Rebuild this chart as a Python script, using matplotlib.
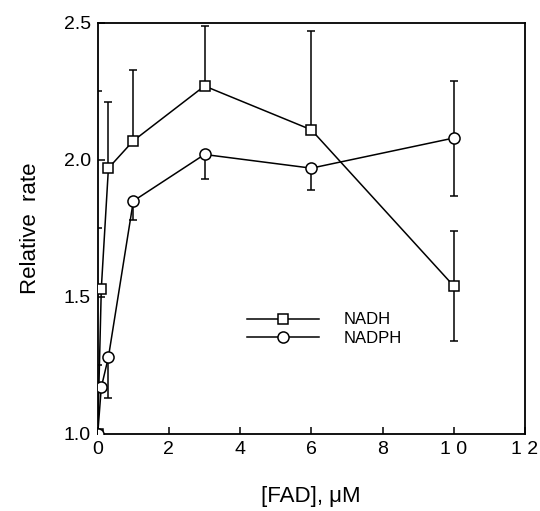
import matplotlib.pyplot as plt
import numpy as np

plt.rcParams['font.family'] = ['Liberation Sans', 'DejaVu Sans']

# [FAD] in uM
fad = [0, 0.1, 0.3, 1, 3, 6, 10]

# NADH
nadh = [1.0, 1.53, 1.97, 2.07, 2.27, 2.11, 1.54]
nadh_lo = [0, 0, 0, 0, 0, 0, 0.20]
nadh_hi = [0, 0, 0.24, 0.26, 0.22, 0.36, 0.20]

# NADPH
nadph = [1.0, 1.17, 1.28, 1.85, 2.02, 1.97, 2.08]
nadph_lo = [0, 0, 0.15, 0.07, 0.09, 0.08, 0.21]
nadph_hi = [0, 0, 0, 0, 0, 0, 0.21]

fig = plt.figure(figsize=(5.4, 5.11), dpi=100)
ax = fig.add_axes([0.181, 0.151, 0.791, 0.804])

ax.errorbar(fad, nadh, yerr=[nadh_lo, nadh_hi], fmt='none', ecolor='black',
            elinewidth=1.1, capsize=3, capthick=1.1, zorder=2)
ax.errorbar(fad, nadph, yerr=[nadph_lo, nadph_hi], fmt='none', ecolor='black',
            elinewidth=1.1, capsize=3, capthick=1.1, zorder=2)

ax.plot(fad, nadh, '-s', color='black', lw=1.1, markersize=7.5,
        markerfacecolor='white', markeredgewidth=1.1, label='NADH', zorder=3)
ax.plot(fad, nadph, '-o', color='black', lw=1.1, markersize=8,
        markerfacecolor='white', markeredgewidth=1.1, label='NADPH', zorder=3)

ax.set_xlim(0, 12)
ax.set_ylim(1.0, 2.5)
ax.set_xticks(np.arange(0, 13, 2))
ax.set_xticklabels(['0', '2', '4', '6', '8', '1 0', '1 2'])
ax.set_yticks([1.0, 1.5, 2.0, 2.5])
ax.set_yticks([1.25, 1.75, 2.25], minor=True)
ax.tick_params(direction='in', labelsize=14, length=5, width=1.1, pad=5)
ax.tick_params(which='minor', direction='in', length=3, width=1.1)
for s in ax.spines.values():
    s.set_linewidth(1.3)

ax.set_xlabel('[FAD], \u03bcM', fontsize=16, labelpad=20)
ax.set_ylabel('Relative  rate', fontsize=16, labelpad=16)

ax.legend(loc='center left', bbox_to_anchor=(0.33, 0.255), frameon=False,
          fontsize=12, handlelength=4.3, handletextpad=1.5, labelspacing=0.2,
          borderpad=0)

plt.savefig('out.png', dpi=100)
